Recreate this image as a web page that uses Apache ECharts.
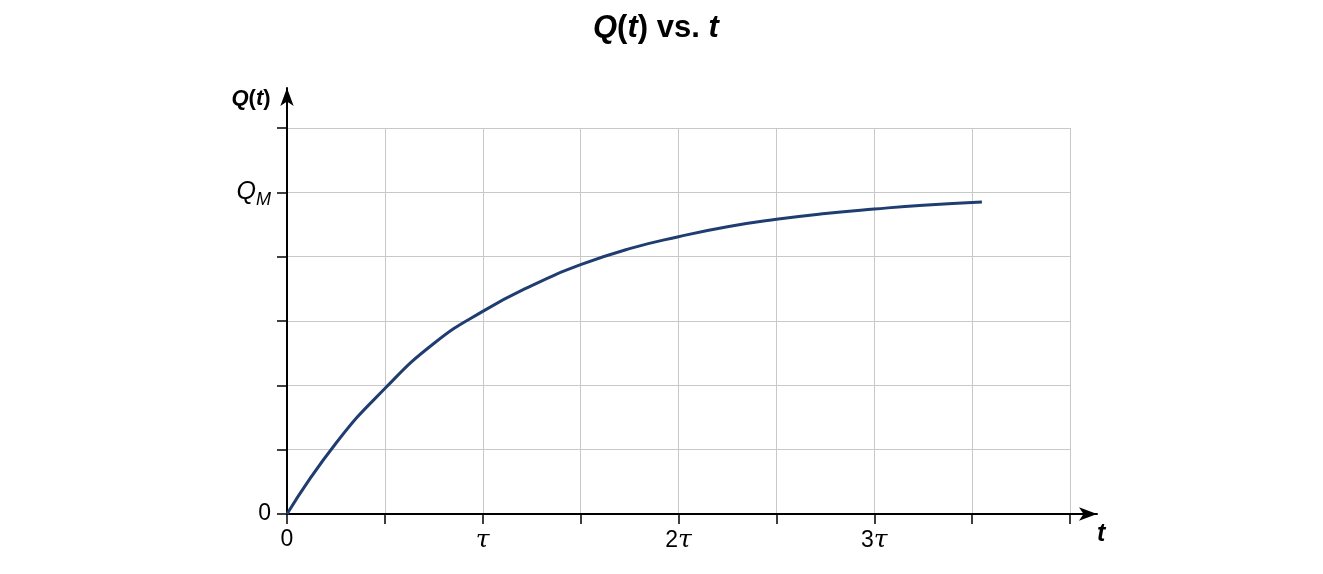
<!DOCTYPE html>
<html><head><meta charset="utf-8">
<script src="https://cdn.jsdelivr.net/npm/echarts@6/dist/echarts.min.js"></script>
<style>html,body{margin:0;background:#fff}#c{width:1323px;height:574px}</style>
</head><body><div id="c"></div>
<script>
const tValues = [0,0.25,0.5,0.75,1,1.25,1.5,1.75,2,2.25,2.5,2.75,3,3.25,3.55];
const qValues = [0,0.22,0.39,0.53,0.63,0.71,0.775,0.825,0.862,0.893,0.916,0.934,0.948,0.96,0.97];
const xTickLabels = {0:'{n|0}',1:'{i|τ}',2:'{n|2}{i|τ}',3:'{n|3}{i|τ}'};
const yTickLabels = {0:'0',1:'{q|Q}{s|M}'};
const font = 'Liberation Sans, Arial, sans-serif';
const chart = echarts.init(document.getElementById('c'));
chart.setOption({
  animation:false,
  title:{text:'{i|Q}{b|(}{i|t}{b|) vs. }{i|t}',left:588,top:8,
    textStyle:{rich:{i:{fontSize:31,fontWeight:'bold',fontStyle:'italic',fontFamily:font,color:'#000'},
                     b:{fontSize:31,fontWeight:'bold',fontFamily:font,color:'#000'}}}},
  graphic:[{type:'text',left:1097,top:522,style:{text:'t',font:'italic bold 25px '+font,fill:'#000'}}],
  grid:[{left:287,right:253,top:128,bottom:60},{left:287,right:226,top:88,bottom:60}],
  xAxis:[{type:'value',gridIndex:0,min:0,max:4,interval:0.5,
    axisLine:{show:false},
    axisTick:{show:true,length:10,lineStyle:{color:'#000',width:1.5}},
    splitLine:{lineStyle:{color:'#c8c8c8',width:1}},
    axisLabel:{margin:14,
      formatter:v=>xTickLabels[v]!==undefined?xTickLabels[v]:'',
      rich:{n:{fontSize:23,fontFamily:font,color:'#000'},i:{fontSize:25,fontStyle:'italic',fontFamily:'DejaVu Serif, serif',color:'#000'}}}},
   {type:'value',gridIndex:1,min:0,max:1,axisLabel:{show:false},axisTick:{show:false},splitLine:{show:false},
    axisLine:{show:true,symbol:['none','arrow'],symbolSize:[10,18],lineStyle:{color:'#000',width:2}}}],
  yAxis:[{type:'value',gridIndex:0,min:0,max:1.2,interval:0.2,
    axisLine:{show:false},
    axisTick:{show:true,length:10,lineStyle:{color:'#000',width:1.5}},
    splitLine:{lineStyle:{color:'#c8c8c8',width:1}},
    axisLabel:{fontSize:23,fontFamily:font,color:'#000',margin:16,
      formatter:v=>{const k=Math.round(v*10)/10;return yTickLabels[k]!==undefined?yTickLabels[k]:'';},
      rich:{q:{fontSize:25,fontStyle:'italic',fontFamily:font,color:'#000'},
            s:{fontSize:18,fontStyle:'italic',fontFamily:font,color:'#000',verticalAlign:'bottom',padding:[16,0,0,0]}}}},
   {type:'value',gridIndex:1,min:0,max:1,axisLabel:{show:false},axisTick:{show:false},splitLine:{show:false},
    axisLine:{show:true,symbol:['none','arrow'],symbolSize:[10,18],lineStyle:{color:'#000',width:2}},
    name:'{i|Q}{b|(}{i|t}{b|)}',nameLocation:'end',nameGap:-22,
    nameTextStyle:{padding:[0,72,0,0],rich:{i:{fontSize:22,fontWeight:'bold',fontStyle:'italic',fontFamily:font,color:'#000'},
      b:{fontSize:22,fontWeight:'bold',fontFamily:font,color:'#000'}}}}],
  series:[{type:'line',xAxisIndex:0,yAxisIndex:0,smooth:0.5,showSymbol:false,
    lineStyle:{color:'#1f3d70',width:3},
    data:tValues.map((t,i)=>[t,qValues[i]])}]
});
</script></body></html>
